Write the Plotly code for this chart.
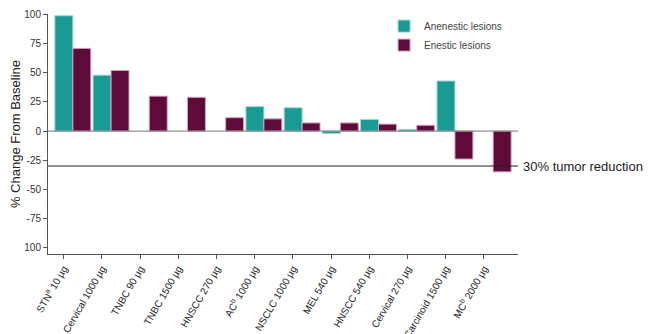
import plotly.graph_objects as go

categories = ["STN<sup>a</sup> 10 µg", "Cervical 1000 µg", "TNBC 90 µg", "TNBC 1500 µg",
              "HNSCC 270 µg", "AC<sup>b</sup> 1000 µg", "NSCLC 1000 µg", "MEL 540 µg",
              "HNSCC 540 µg", "Cervical 270 µg", "Carcinoid 1500 µg", "MC<sup>b</sup> 2000 µg"]
anenestic = [99, 48, None, None, None, 21, 20, -2, 10, 1.5, 43, None]
enestic = [71, 52, 30, 29, 11.5, 10.5, 7, 7, 6, 5, -24, -35]
ytick_vals = [100, 75, 50, 25, 0, -25, -50, -75, -100]
ytick_text = ["100", "75", "50", "25", "0", "-25", "-50", "-75", "100"]
threshold = -30

x = list(range(len(categories)))
tick_offset = 0.24

fig = go.Figure()
fig.add_trace(go.Bar(x=x, y=anenestic, name="Anenestic lesions",
                     marker=dict(color="#1a9a94", line=dict(color="#9fd6d2", width=1))))
fig.add_trace(go.Bar(x=x, y=enestic, name="Enestic lesions",
                     marker=dict(color="#5e0b39", line=dict(color="#d9a3c0", width=1))))

fig.add_shape(type="line", xref="x", yref="y", x0=-0.65, x1=11.65, y0=threshold, y1=threshold,
              line=dict(color="#222", width=1))
fig.add_shape(type="line", xref="x", yref="y", x0=-0.65, x1=11.65, y0=0, y1=0,
              line=dict(color="#777", width=1))
fig.add_annotation(x=11.65, y=threshold, xref="x", yref="y", text="30% tumor reduction",
                   showarrow=False, xanchor="left", xshift=3,
                   font=dict(size=13, color="#222", family="Liberation Sans, Arial"))

fig.update_layout(
    width=648, height=334,
    margin=dict(l=48, r=130, t=14, b=80, autoexpand=False),
    plot_bgcolor="white", paper_bgcolor="white",
    barmode="group", bargap=0.06, bargroupgap=0,
    font=dict(family="Liberation Sans, Arial", color="#333"),
    legend=dict(x=0.715, y=1.01, xanchor="left", yanchor="top", bgcolor="rgba(0,0,0,0)",
                font=dict(size=10, color="#444"), tracegroupgap=0, itemwidth=30),
    showlegend=True,
)
fig.update_xaxes(range=[-0.65, 11.65], tickvals=[i - tick_offset for i in x], ticktext=categories,
                 tickangle=-60, tickfont=dict(size=10, color="#222"), automargin=False,
                 showline=True, linecolor="#555", linewidth=1, ticks="outside", ticklen=4,
                 tickcolor="#555", showgrid=False, zeroline=False)
fig.update_yaxes(range=[-105.5, 100.5], tickvals=ytick_vals, ticktext=ytick_text,
                 tickfont=dict(size=10, color="#333"), automargin=False,
                 title=dict(text="% Change From Baseline", font=dict(size=13, color="#222"), standoff=0),
                 showline=True, linecolor="#555", linewidth=1, ticks="outside", ticklen=4,
                 tickcolor="#555", showgrid=False, zeroline=False)

fig.write_html("out.html")
